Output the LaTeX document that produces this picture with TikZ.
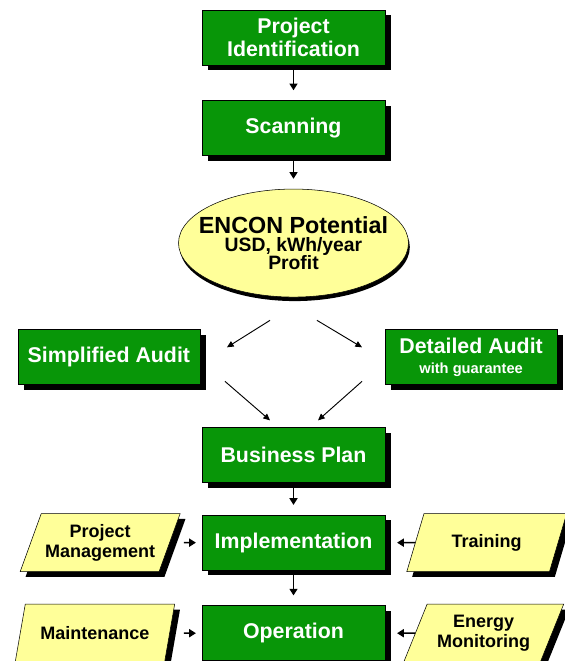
\documentclass[tikz,border=0pt]{standalone}
\usepackage{fontspec}
\setmainfont{Liberation Sans}
\usetikzlibrary{arrows.meta, positioning, shapes.geometric, shadows}
\definecolor{boxgreen}{RGB}{8,150,8}
\definecolor{noteyellow}{RGB}{255,255,153}
\tikzset{box/.style={rectangle,draw,fill=boxgreen,text=white,align=center,font=\bfseries\fontsize{16}{17.25}\selectfont,minimum width=137pt,minimum height=41.25pt,inner sep=2pt,drop shadow={shadow xshift=4.5pt,shadow yshift=-4pt,fill=black,opacity=1}},note/.style={trapezium,trapezium left angle=63,trapezium right angle=117,trapezium stretches=true,draw,fill=noteyellow,align=center,font=\bfseries\fontsize{13.5}{15}\selectfont,minimum width=120pt,minimum height=43.5pt,inner sep=1pt,drop shadow={shadow xshift=4pt,shadow yshift=-4pt,fill=black,opacity=1}},goal/.style={ellipse,draw,fill=noteyellow,align=center,minimum width=172pt,minimum height=81pt,inner xsep=-10pt,inner ysep=0pt,font=\bfseries,drop shadow={shadow xshift=1pt,shadow yshift=-3pt,fill=black,opacity=1}},line/.style={-{Triangle[length=5pt,width=6pt]},line width=1.1pt,shorten <=3.75pt,shorten >=7.5pt},diag/.style={-{Triangle[length=5pt,width=4.5pt]},line width=0.7pt}}

\begin{document}
\begin{tikzpicture}[node distance=25pt and 24pt]
\useasboundingbox (-220.1pt,28.1pt) rectangle (202.9pt,-467.6pt);
\node[box] (ident) {Project\\Identification};
\node[box, below=26.25pt of ident] (scan) {Scanning};
\node[goal, below=24.75pt of scan] (encon) {\fontsize{17.5}{19}\selectfont ENCON Potential\\[2pt]\fontsize{14.5}{15}\selectfont USD, kWh/year\\[-1pt]\fontsize{14.5}{15}\selectfont Profit};
\node[box, below left=24pt and 70pt of encon.south, minimum width=136.5pt] (simple) {Simplified Audit};
\node[box, below right=24pt and 68.5pt of encon.south, minimum width=129pt] (detail) {Detailed Audit\\[-2pt]\fontsize{11}{13}\selectfont with guarantee};
\node[box, below=97.5pt of encon] (plan) {Business Plan};
\node[box, below=24pt of plan] (impl) {Implementation};
\node[box, below=26.25pt of impl] (oper) {Operation};
\node[note, left=24pt of impl] (manage) {Project\\Management};
\node[note, right=22.5pt of impl] (train) {Training};
\node[note, left=24pt of oper] (maint) {Maintenance};
\node[note, right=22.5pt of oper] (energy) {Energy\\Monitoring};
% ends of the free arrows round the audits
\coordinate[below left=17.25pt and 17.6pt of encon.south] (a1);
\coordinate[below left=37.5pt and 49.9pt of encon.south] (a2);
\coordinate[below right=17.25pt and 17.6pt of encon.south] (b1);
\coordinate[below right=37.5pt and 51.4pt of encon.south] (b2);
\coordinate[above left=34.5pt and 51.4pt of plan.north] (c1);
\coordinate[above left=5.25pt and 17.6pt of plan.north] (c2);
\coordinate[above right=34.5pt and 51.4pt of plan.north] (d1);
\coordinate[above right=5.25pt and 18.4pt of plan.north] (d2);
\draw[line] (ident) -- (scan);
\draw[line] (scan) -- (encon);
\draw[line] (plan) -- (impl);
\draw[line] (impl) -- (oper);
\draw[diag] (a1) -- (a2);
\draw[diag] (b1) -- (b2);
\draw[diag] (c1) -- (c2);
\draw[diag] (d1) -- (d2);
\draw[line, shorten <=10.5pt, shorten >=4.5pt] (manage) -- (impl);
\draw[line, shorten <=10.5pt, shorten >=4.5pt] (maint) -- (oper);
\draw[line, shorten <=0pt, shorten >=9pt] (train) -- (impl);
\draw[line, shorten <=0pt, shorten >=9pt] (energy) -- (oper);
\end{tikzpicture}
\end{document}
